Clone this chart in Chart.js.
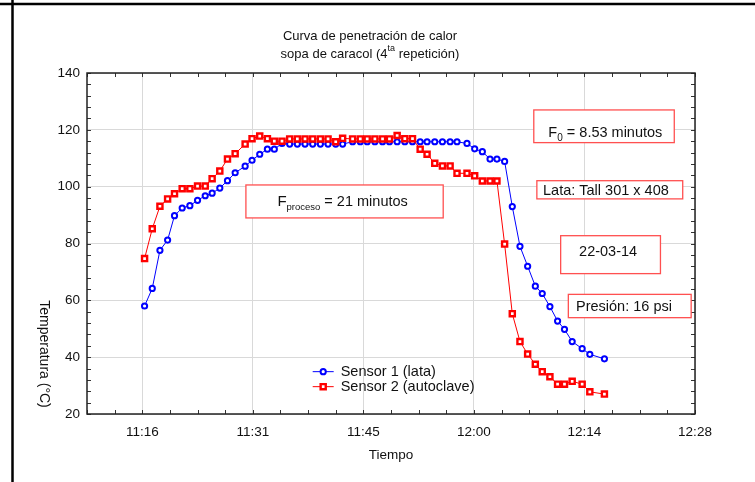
<!DOCTYPE html>
<html><head><meta charset="utf-8">
<script src="https://cdn.jsdelivr.net/npm/chart.js@4/dist/chart.umd.min.js"></script>
<style>html,body{margin:0;padding:0;background:#fff;}#wrap{width:755px;height:482px;}</style>
</head><body><div id="wrap"><canvas id="c" width="755" height="482"></canvas></div>
<script>
// Time of each reading, minutes after midnight
const timeMin = [677.1, 678.1, 679.1, 680.1, 681.0, 682.0, 683.0, 684.0, 685.0, 685.9,
  686.9, 687.9, 688.9, 690.2, 691.1, 692.1, 693.1, 694.0, 695.0, 696.0,
  697.0, 698.0, 699.0, 700.0, 701.0, 702.0, 702.9, 704.2, 705.2, 706.1,
  707.1, 708.1, 709.0, 710.0, 711.0, 712.0, 713.0, 713.9, 714.9, 715.9,
  716.9, 717.8, 719.1, 720.1, 721.1, 722.1, 723.0, 724.0, 725.0, 726.0,
  727.0, 728.0, 728.9, 729.9, 730.9, 731.8, 732.8, 734.1, 735.1, 737.0];
const sensor1 = [58.0, 64.2, 77.6, 81.2, 89.8, 92.5, 93.3, 95.2, 96.8, 97.7,
  99.5, 102.1, 104.9, 107.2, 109.3, 111.4, 113.2, 113.2, 115.2, 115.0,
  115.0, 115.0, 115.0, 115.0, 115.0, 115.0, 115.0, 115.8, 115.8, 115.8,
  115.8, 115.8, 115.8, 115.8, 115.8, 115.8, 115.8, 115.8, 115.8, 115.8,
  115.8, 115.8, 115.2, 113.3, 112.3, 109.7, 109.7, 108.9, 93.0, 79.0,
  72.0, 65.0, 62.4, 57.8, 52.7, 49.8, 45.5, 43.0, 41.0, 39.4];
const sensor2 = [74.7, 85.2, 93.1, 95.7, 97.5, 99.3, 99.3, 100.2, 100.2, 102.8,
  105.5, 109.7, 111.6, 115.0, 116.9, 117.8, 116.9, 116.0, 116.0, 116.8,
  116.8, 116.8, 116.8, 116.8, 116.8, 115.8, 117.0, 116.8, 116.8, 116.8,
  116.8, 116.8, 116.8, 118.0, 116.9, 116.9, 113.2, 111.4, 108.2, 107.3,
  107.3, 104.7, 104.7, 103.8, 102.0, 102.0, 102.0, 79.8, 55.3, 45.5,
  41.1, 37.5, 34.9, 33.1, 30.5, 30.5, 31.5, 30.5, 27.8, 27.0];
const seriesLabels = ['Sensor 1 (lata)', 'Sensor 2 (autoclave)'];
const xTickValues = [676.8, 691.2, 705.6, 720.0, 734.4, 748.8];
const xTickLabels = ['11:16', '11:31', '11:45', '12:00', '12:14', '12:28'];
const yTickValues = [20, 40, 60, 80, 100, 120, 140];
const xRange = [669.6, 748.8];
const yRange = [20, 140];
const xTitle = 'Tiempo';
const yTitle = 'Temperatura (°C)';
const titleLine1 = 'Curva de penetración de calor';
const titleLine2 = ['sopa de caracol (4', 'ta', ' repetición)'];

const FONT = '"Liberation Sans", Arial, Helvetica, sans-serif';
const BOX = '#ff5050';

// text annotations: boxes in data units
const notes = [
  { box: [690.3, 716.0, 100.6, 89.0], at: [694.4, 95.0],
    parts: [['F', 15, 0], ['proceso', 9.5, 4], [' = 21 minutos', 14.5, 0]] },
  { box: [727.8, 746.1, 127.0, 115.5], at: [729.7, 119.4],
    parts: [['F', 14.5, 0], ['0', 10, 4], [' = 8.53 minutos', 14.5, 0]] },
  { box: [728.2, 747.2, 102.1, 95.7], at: [729.0, 98.8],
    parts: [['Lata: Tall 301 x 408', 14.5, 0]] },
  { box: [731.3, 744.3, 82.75, 69.4], at: [733.7, 77.4],
    parts: [['22-03-14', 14.5, 0]] },
  { box: [732.3, 748.3, 62.1, 53.9], at: [733.3, 58.0],
    parts: [['Presión: 16 psi', 14.5, 0]] }
];

function drawParts(ctx, parts, x, y) {
  ctx.textBaseline = 'alphabetic';
  ctx.textAlign = 'left';
  let cx = x;
  for (const [t, size, dy] of parts) {
    ctx.font = size + 'px ' + FONT;
    ctx.fillText(t, cx, y + dy);
    cx += ctx.measureText(t).width;
  }
}

const decor = {
  id: 'decor',
  beforeDatasetsDraw(chart) {
    const { ctx, chartArea: a, scales: { x, y } } = chart;
    ctx.save();
    ctx.strokeStyle = '#333';
    ctx.lineWidth = 1;
    ctx.beginPath();
    for (let i = 0; ; i++) {
      const v = xRange[0] + i * 3.6;
      if (v > xRange[1] + 0.01) break;
      const px = Math.round(x.getPixelForValue(v)) + 0.5;
      ctx.moveTo(px, a.bottom); ctx.lineTo(px, a.bottom - 4);
      ctx.moveTo(px, a.top); ctx.lineTo(px, a.top + 4);
    }
    for (let v = yRange[0]; v <= yRange[1]; v += 4) {
      const py = Math.round(y.getPixelForValue(v)) + 0.5;
      ctx.moveTo(a.left, py); ctx.lineTo(a.left + 4, py);
      ctx.moveTo(a.right, py); ctx.lineTo(a.right - 4, py);
    }
    ctx.stroke();
    ctx.lineWidth = 1.5;
    ctx.strokeStyle = '#222';
    ctx.strokeRect(a.left, a.top, a.right - a.left, a.bottom - a.top);
    ctx.restore();
  },
  afterDraw(chart) {
    const { ctx, scales: { x, y } } = chart;
    ctx.save();
    // annotation boxes
    for (const n of notes) {
      const x0 = x.getPixelForValue(n.box[0]), x1 = x.getPixelForValue(n.box[1]);
      const y0 = y.getPixelForValue(n.box[2]), y1 = y.getPixelForValue(n.box[3]);
      ctx.fillStyle = '#fff';
      ctx.fillRect(x0, y0, x1 - x0, y1 - y0);
      ctx.strokeStyle = BOX; ctx.lineWidth = 1.3;
      ctx.strokeRect(x0, y0, x1 - x0, y1 - y0);
      ctx.fillStyle = '#111';
      drawParts(ctx, n.parts, x.getPixelForValue(n.at[0]), y.getPixelForValue(n.at[1]) + 5);
    }
    // legend
    const ds = chart.data.datasets;
    const lx = x.getPixelForValue(699.0), ly = y.getPixelForValue(34.9);
    [0, 1].forEach((di, k) => {
      const d = ds[di];
      const yy = ly + k * 15;
      ctx.strokeStyle = d.borderColor; ctx.lineWidth = 1;
      ctx.beginPath(); ctx.moveTo(lx, yy); ctx.lineTo(lx + 21, yy); ctx.stroke();
      ctx.fillStyle = d.pointBackgroundColor; ctx.strokeStyle = d.borderColor; ctx.lineWidth = d.pointBorderWidth;
      ctx.beginPath();
      if (d.pointStyle === 'circle') ctx.arc(lx + 10.5, yy, d.pointRadius, 0, Math.PI * 2);
      else { const s = d.pointRadius * Math.SQRT1_2; ctx.rect(lx + 10.5 - s, yy - s, 2 * s, 2 * s); }
      ctx.fill(); ctx.stroke();
      ctx.fillStyle = '#111';
      ctx.font = '14.5px ' + FONT; ctx.textBaseline = 'middle'; ctx.textAlign = 'left';
      ctx.fillText(d.label, lx + 28, yy);
    });
    // title
    ctx.fillStyle = '#111';
    ctx.textBaseline = 'middle'; ctx.textAlign = 'center';
    ctx.font = '13px ' + FONT;
    const tcx = 370;
    ctx.fillText(titleLine1, tcx, 36);
    const w0 = ctx.measureText(titleLine2[0]).width, w2 = ctx.measureText(titleLine2[2]).width;
    ctx.font = '9px ' + FONT;
    const w1 = ctx.measureText(titleLine2[1]).width;
    let sx = tcx - (w0 + w1 + w2) / 2;
    ctx.textAlign = 'left';
    ctx.font = '13px ' + FONT; ctx.fillText(titleLine2[0], sx, 54); sx += w0;
    ctx.font = '9px ' + FONT; ctx.fillText(titleLine2[1], sx, 49); sx += w1;
    ctx.font = '13px ' + FONT; ctx.fillText(titleLine2[2], sx, 54);
    // y title (rotated, reading downward)
    ctx.save();
    ctx.translate(44, 354);
    ctx.rotate(Math.PI / 2);
    ctx.textAlign = 'center'; ctx.textBaseline = 'middle';
    ctx.font = '14px ' + FONT;
    ctx.fillText(yTitle, 0, 0);
    ctx.restore();
    // outer frame
    ctx.strokeStyle = '#000'; ctx.lineWidth = 2.5;
    ctx.beginPath();
    ctx.moveTo(0, 4); ctx.lineTo(755, 4);
    ctx.moveTo(12.5, 0); ctx.lineTo(12.5, 482);
    ctx.stroke();
    ctx.restore();
  }
};

const pts = (vals) => vals.map((v, i) => ({ x: timeMin[i], y: v }));

new Chart(document.getElementById('c'), {
  type: 'line',
  data: {
    datasets: [
      { label: seriesLabels[0], data: pts(sensor1), borderColor: '#0000ff', backgroundColor: '#0000ff',
        borderWidth: 1, pointStyle: 'circle', pointRadius: 2.6, pointBorderWidth: 2,
        pointBackgroundColor: '#ffffff', pointBorderColor: '#0000ff', tension: 0, order: 1 },
      { label: seriesLabels[1], data: pts(sensor2), borderColor: '#ff0000', backgroundColor: '#ff0000',
        borderWidth: 1, pointStyle: 'rect', pointRadius: 3.6, pointBorderWidth: 2.4,
        pointBackgroundColor: '#ffffff', pointBorderColor: '#ff0000', tension: 0, order: 0 }
    ]
  },
  options: {
    responsive: false,
    animation: false,
    devicePixelRatio: 1,
    layout: { padding: { top: 73, right: 60, left: 0, bottom: 0 } },
    plugins: { legend: { display: false }, tooltip: { enabled: false }, title: { display: false } },
    scales: {
      x: {
        type: 'linear', min: xRange[0], max: xRange[1],
        afterBuildTicks: (s) => { s.ticks = xTickValues.map(v => ({ value: v })); },
        afterFit: (s) => { s.height = 68; },
        ticks: { callback: (v, i) => xTickLabels[i], color: '#111', font: { family: FONT, size: 13.5 }, padding: 10, maxRotation: 0, autoSkip: false },
        grid: { color: '#d9d9d9', lineWidth: 1, drawTicks: false },
        border: { display: false },
        title: { display: true, text: xTitle, color: '#111', font: { family: FONT, size: 13.5 }, padding: { top: 0, bottom: 19 } }
      },
      y: {
        type: 'linear', min: yRange[0], max: yRange[1],
        afterBuildTicks: (s) => { s.ticks = yTickValues.map(v => ({ value: v })); },
        afterFit: (s) => { s.width = 87; },
        ticks: { color: '#111', font: { family: FONT, size: 13.5 }, padding: 7 },
        grid: { color: '#d9d9d9', lineWidth: 1, drawTicks: false },
        border: { display: false }
      }
    }
  },
  plugins: [decor]
});
</script></body></html>
